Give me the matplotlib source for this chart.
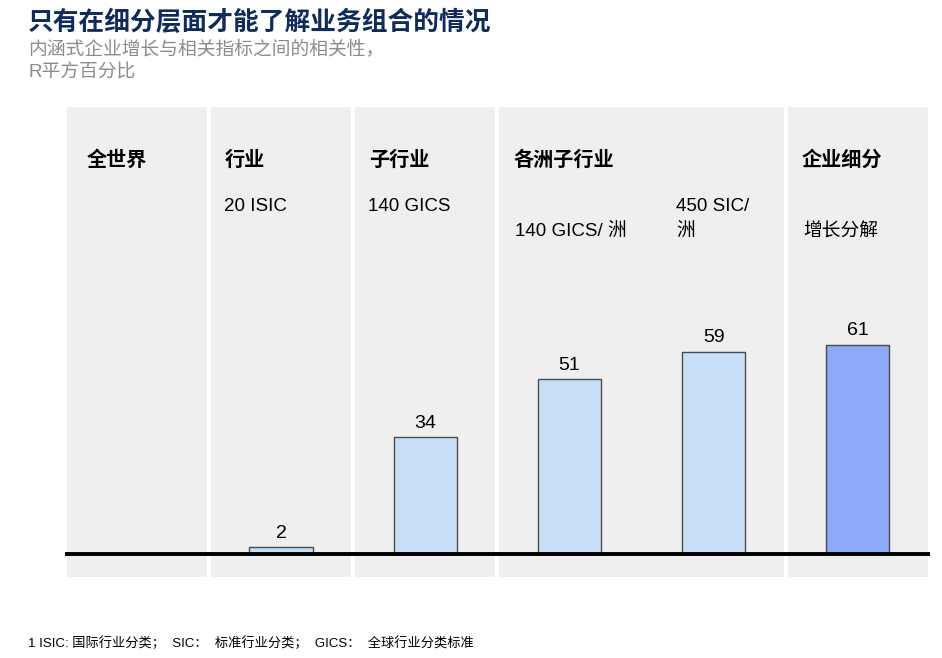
import matplotlib

matplotlib.use("Agg")
import matplotlib.pyplot as plt
import numpy as np

plt.rcParams["font.family"] = ["Liberation Sans", "Noto Sans CJK SC", "DejaVu Sans"]

# data
segments = ["全世界", "行业", "子行业", "各洲子行业", "各洲子行业", "企业细分"]
r_squared = [np.nan, 2, 34, 51, 59, 61]
bar_labels = ["", "20 ISIC", "140 GICS", "140 GICS/ 洲", "450 SIC/\n洲", "增长分解"]
headers = ["全世界", "行业", "子行业", "各洲子行业", "企业细分"]
header_pos = [0, 1, 2, 3, 5]
panel_spans = [(-0.5, 0.5), (0.5, 1.5), (1.5, 2.5), (2.5, 4.5), (4.5, 5.5)]

BAR_COLOR = "#c7e0f8"
HILITE_COLOR = "#8eaafb"
PANEL_COLOR = "#efefef"
TITLE_COLOR = "#0f2b5b"


def main() -> int:
    fig = plt.figure(figsize=(9.42, 6.58), dpi=100)
    ax = fig.add_axes([0.069, 0.123, 0.918, 0.714])
    ax.set_xlim(-0.5, 5.5)
    ax.set_ylim(-6.7, 130.3)
    ax.axis("off")

    gap = 0.014
    for left, right in panel_spans:
        ax.axvspan(left + gap, right - gap, color=PANEL_COLOR, lw=0, zorder=0)

    x = np.arange(len(r_squared))
    colors = [BAR_COLOR] * (len(r_squared) - 1) + [HILITE_COLOR]
    for xi, val, col in zip(x, r_squared, colors):
        if np.isnan(val):
            continue
        ax.bar(xi, val, width=0.44, color=col, edgecolor="#4a4a4a", lw=1.0, zorder=2)
        ax.text(xi, val + 1.6, f"{val:g}", ha="center", va="bottom", fontsize=14, zorder=3)

    ax.axhline(0, xmin=0.0, xmax=1.0, color="black", lw=2.8, zorder=4)

    for pos, head in zip(header_pos, headers):
        off = -0.35 if pos == 0 else -0.39
        ax.text(pos + off, 115, head, ha="left", va="center", fontsize=14.5,
                fontweight="bold", family=["Noto Sans CJK SC"])

    for xi, lab in enumerate(bar_labels):
        if not lab:
            continue
        lines = lab.split("\n")
        if xi in (3, 5):
            ax.text(xi - 0.38, 94, lab, ha="left", va="center", fontsize=13.5)
        elif len(lines) > 1:
            ax.text(xi - 0.26, 101.5, lines[0], ha="left", va="center", fontsize=13.5)
            ax.text(xi - 0.26, 94, lines[1], ha="left", va="center", fontsize=13.5)
        else:
            ax.text(xi - 0.40, 101.5, lab, ha="left", va="center", fontsize=13.5)

    fig.text(0.030, 0.966, "只有在细分层面才能了解业务组合的情况", ha="left", va="center",
             fontsize=18.5, fontweight="bold", color=TITLE_COLOR, family=["Noto Sans CJK SC"])
    fig.text(0.030, 0.925, "内涵式企业增长与相关指标之间的相关性，", ha="left", va="center",
             fontsize=13.5, color="#8c8c8c")
    fig.text(0.030, 0.889, "R平方百分比", ha="left", va="center", fontsize=13.5, color="#8c8c8c")

    fig.text(0.030, 0.022, "1 ISIC: 国际行业分类；  SIC：  标准行业分类；  GICS：  全球行业分类标准",
             ha="left", va="center", fontsize=9.5)

    fig.savefig("out.png", dpi=100)
    plt.close(fig)
    return 0


if __name__ == "__main__":
    raise SystemExit(main())
